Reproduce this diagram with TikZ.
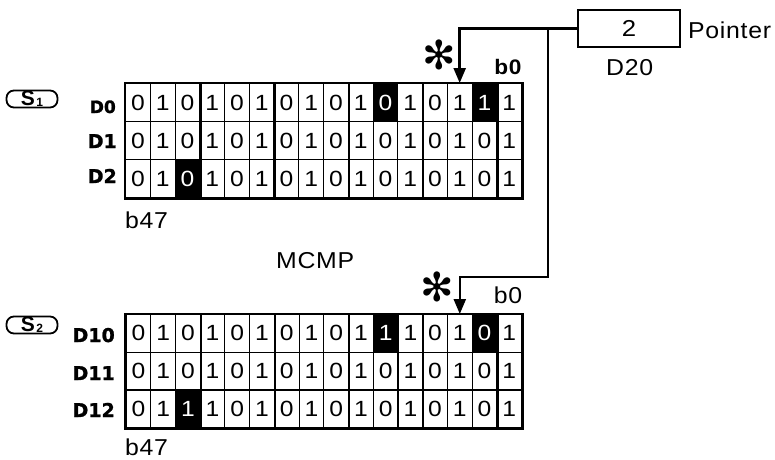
\documentclass[tikz,border=0pt]{standalone}
\usepackage{fontspec}
\setmainfont{Liberation Sans}[LetterSpace=3,FakeStretch=1.08]
\newfontfamily\cellfont{Liberation Sans}[FakeStretch=1.12]
\newfontfamily\ovfont{Liberation Sans}
\newfontfamily\lblfont{DejaVu Sans Bold}[FakeBold=1.2]
\newfontfamily\symfont{DejaVu Sans}
\usetikzlibrary{arrows.meta}
\colorlet{invwhite}{black}
\colorlet{invblack}{white}
\begin{document}
\begin{tikzpicture}[x=1pt,y=-1pt,
  cell/.style={draw, line width=1.1pt, minimum width=24.75pt, minimum height=#1,
    inner sep=0pt, anchor=north west, font=\cellfont\fontsize{22}{22}\selectfont},
  sepline/.style={line width=2.4pt},
  outer/.style={line width=2.8pt},
  conn/.style={line width=2.4pt, -{Triangle[length=15pt,width=12pt]}},
  reglbl/.style={inner sep=0pt, anchor=base east, font=\lblfont\fontsize{19}{19}\selectfont},
  txt/.style={inner sep=0pt, font=\fontsize{23}{23}\selectfont},
  sov/.style={draw, line width=1.8pt, rounded corners=7.5pt, minimum width=51pt, minimum height=17pt, inner sep=0pt},
  ast/.style={inner sep=0pt, font=\symfont\fontsize{40}{40}\selectfont},
  ptrbox/.style={draw, line width=2.4pt, minimum width=102pt, minimum height=37pt, inner sep=0pt, font=\cellfont\fontsize{23}{23}\selectfont}
]
\useasboundingbox (0,0) rectangle (775,459);

% top grid
\foreach \rl [count=\r from 0] in {
  {white/0,white/1,white/0,white/1,white/0,white/1,white/0,white/1,white/0,white/1,black/0,white/1,white/0,white/1,black/1,white/1},
  {white/0,white/1,white/0,white/1,white/0,white/1,white/0,white/1,white/0,white/1,white/0,white/1,white/0,white/1,white/0,white/1},
  {white/0,white/1,black/0,white/1,white/0,white/1,white/0,white/1,white/0,white/1,white/0,white/1,white/0,white/1,white/0,white/1}} {
  \foreach \f/\d [count=\i from 0] in \rl {
    \node[cell=38pt, fill=\f, text=inv\f] (t-\r-\i) at ({125+\i*24.75},{83+\r*38}) {\d};
  }
}
\foreach \c in {2,5,8,11,14}
  \draw[sepline] (t-0-\c.north east) -- (t-2-\c.south east);
\draw[outer] (t-0-0.north west) rectangle (t-2-15.south east);

% bottom grid
\foreach \rl [count=\r from 0] in {
  {white/0,white/1,white/0,white/1,white/0,white/1,white/0,white/1,white/0,white/1,black/1,white/1,white/0,white/1,black/0,white/1},
  {white/0,white/1,white/0,white/1,white/0,white/1,white/0,white/1,white/0,white/1,white/0,white/1,white/0,white/1,white/0,white/1},
  {white/0,white/1,black/1,white/1,white/0,white/1,white/0,white/1,white/0,white/1,white/0,white/1,white/0,white/1,white/0,white/1}} {
  \foreach \f/\d [count=\i from 0] in \rl {
    \node[cell=37.7pt, fill=\f, text=inv\f] (b-\r-\i) at ({125.5+\i*24.72},{314+\r*37.7}) {\d};
  }
}
\foreach \c in {2,5,8,11,14}
  \draw[sepline] (b-0-\c.north east) -- (b-2-\c.south east);
\draw[outer] (b-0-0.north west) rectangle (b-2-15.south east);

% register labels
\node[reglbl, font=\lblfont\fontsize{17}{17}\selectfont] (d0) at (116,113) {D0};
\node[reglbl] (d1) at (117,148) {D1};
\node[reglbl] (d2) at (117,183) {D2};
\node[reglbl] (d10) at (115,342) {D10};
\node[reglbl] (d11) at (115,380) {D11};
\node[reglbl] (d12) at (115,417) {D12};

% S ovals
\node[sov] (s1) at (32,99) {\ovfont\bfseries\fontsize{21}{21}\selectfont S\kern1.5pt\raisebox{-1pt}{\fontsize{12}{12}\selectfont 1}};
\node[sov] (s2) at (32,325) {\ovfont\bfseries\fontsize{21}{21}\selectfont S\kern1.5pt\raisebox{-1pt}{\fontsize{12}{12}\selectfont 2}};

% bit labels
\node[txt, anchor=base west] (b47a) at (125,228) {b47};
\node[txt, anchor=base west] (b47b) at (125,455) {b47};
\node[txt, anchor=base west] (mcmp) at (276,268) {MCMP};
\node[txt, font=\bfseries\fontsize{21}{21}\selectfont] (b0a) at (508,67) {b0};
\node[txt] (b0b) at (508,295) {b0};

% pointer
\node[ptrbox] (ptr) at (629,28.5) {2};
\node[txt, anchor=base west] (ptrl) at (688,38) {Pointer};
\node[txt, anchor=base west] (d20) at (606,75) {D20};

% asterisks
\node[ast] (ast1) at (439,55) {✻};
\node[ast] (ast2) at (437,287) {✻};

% connectors
\coordinate (j) at (548,28.5);
\coordinate (k) at (548,277);
\draw[conn] (ptr.west) -| (t-0-13.north);
\draw[conn] (j) -- (k) -| (b-0-13.north);
\end{tikzpicture}
\end{document}
